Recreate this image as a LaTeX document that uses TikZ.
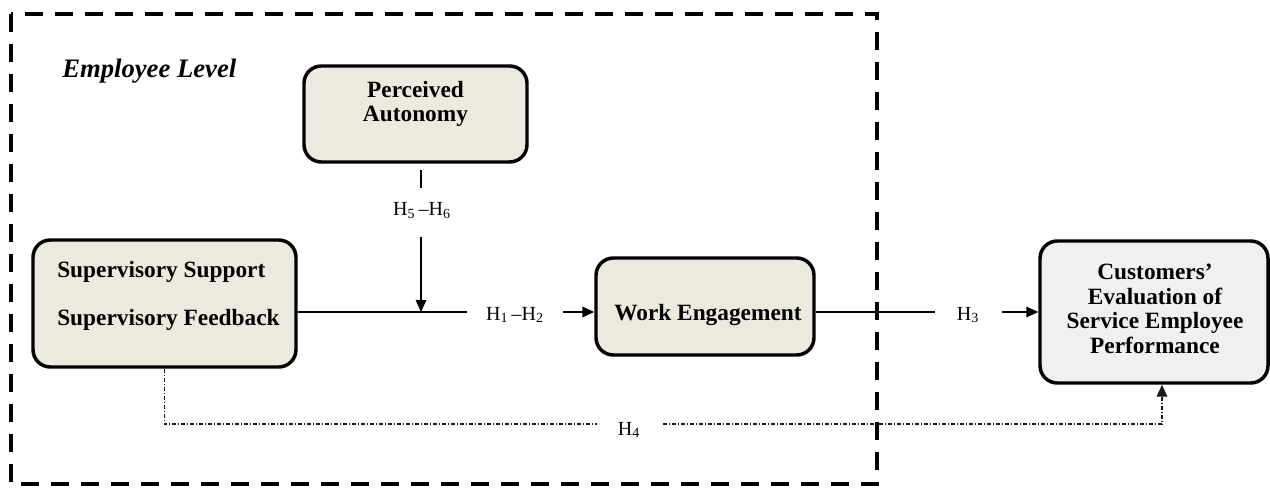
\documentclass[tikz,border=0pt]{standalone}
\usepackage{fontspec}
\setmainfont{Liberation Serif}
\usetikzlibrary{arrows.meta}
\definecolor{boxfill}{RGB}{236,233,222}
\definecolor{custfill}{RGB}{240,240,240}
\begin{document}
\begin{tikzpicture}[x=0.75pt,y=-0.75pt,
  box/.style={draw=black, line width=2.6pt, rounded corners=13pt, fill=boxfill, inner sep=0pt},
  boxtext/.style={font=\fontsize{17.5}{18.4}\selectfont\bfseries, align=center, inner sep=0pt},
  hlabel/.style={font=\fontsize{15}{16}\selectfont, inner sep=0pt, anchor=base},
  link/.style={line width=0.8pt},
  tip/.style={-{Triangle[length=9pt,width=8pt]}},
  dashdot/.style={line width=0.9pt, draw=black!90, dash pattern=on 3pt off 1.5pt on 0.75pt off 1.5pt}
]
\useasboundingbox (0,0) rectangle (1270,488);

% employee-level frame
\draw[line width=3pt, dash pattern=on 13.5pt off 9pt] (11,14) rectangle (877,484);
\node[font=\fontsize{20}{22}\selectfont\bfseries\itshape, inner sep=0pt, anchor=base west] (level) at (62,78) {Employee Level};

% constructs
\node[box, minimum width=167.25pt, minimum height=72pt] (perc) at (415.5,114) {};
\node[boxtext] (perc-t) at (415.5,104) {Perceived\\Autonomy};

\node[box, minimum width=197.25pt, minimum height=95.25pt] (sup) at (164.5,303.5) {};
\node[boxtext, anchor=base west] (sup-t1) at (57,277) {Supervisory Support};
\node[boxtext, anchor=base west] (sup-t2) at (57,325) {Supervisory Feedback};

\node[box, minimum width=163.5pt, minimum height=72.75pt] (work) at (705,306.5) {};
\node[boxtext, anchor=base] (work-t) at (708,320) {Work Engagement};

\node[box, fill=custfill, minimum width=171pt, minimum height=106.5pt] (cust) at (1154,312) {};
\node[boxtext] (cust-t) at (1155,309) {Customers'\\Evaluation of\\Service Employee\\Performance};

% hypothesis labels
\node[hlabel] (h56) at (422,216) {H\textsubscript{5}\,–H\textsubscript{6}};
\node[hlabel] (h12) at (515,320) {H\textsubscript{1}\,–H\textsubscript{2}};
\node[hlabel] (h3) at (968,320) {H\textsubscript{3}};
\node[hlabel] (h4) at (629,435) {H\textsubscript{4}};

% connector anchor points
\coordinate (mainy) at (0,312);
\coordinate (h12l) at (467,312);
\coordinate (h12r) at (563,312);
\coordinate (h3l) at (935,312);
\coordinate (h3r) at (1002,312);
\coordinate (pa1) at (421,170);
\coordinate (pa2) at (421,188);
\coordinate (pa3) at (421,237);
\coordinate (h4l) at (597,424);
\coordinate (h4r) at (663,424);
\coordinate (cx) at (1162,0);

% direct effects
\draw[link] (sup.east |- mainy) -- (h12l);
\draw[link,tip] (h12r) -- (work.west |- mainy);
\draw[link] (work.east |- mainy) -- (h3l);
\draw[link,tip] (h3r) -- (cust.west |- mainy);

% moderation
\draw[link] (pa1) -- (pa2);
\draw[link,tip] (pa3) -- (pa3 |- mainy);

% cross-level effect
\draw[dashdot] (sup.south) |- (h4l);
\draw[dashdot,tip] (h4r) -| (cust.south -| cx);
\end{tikzpicture}
\end{document}
